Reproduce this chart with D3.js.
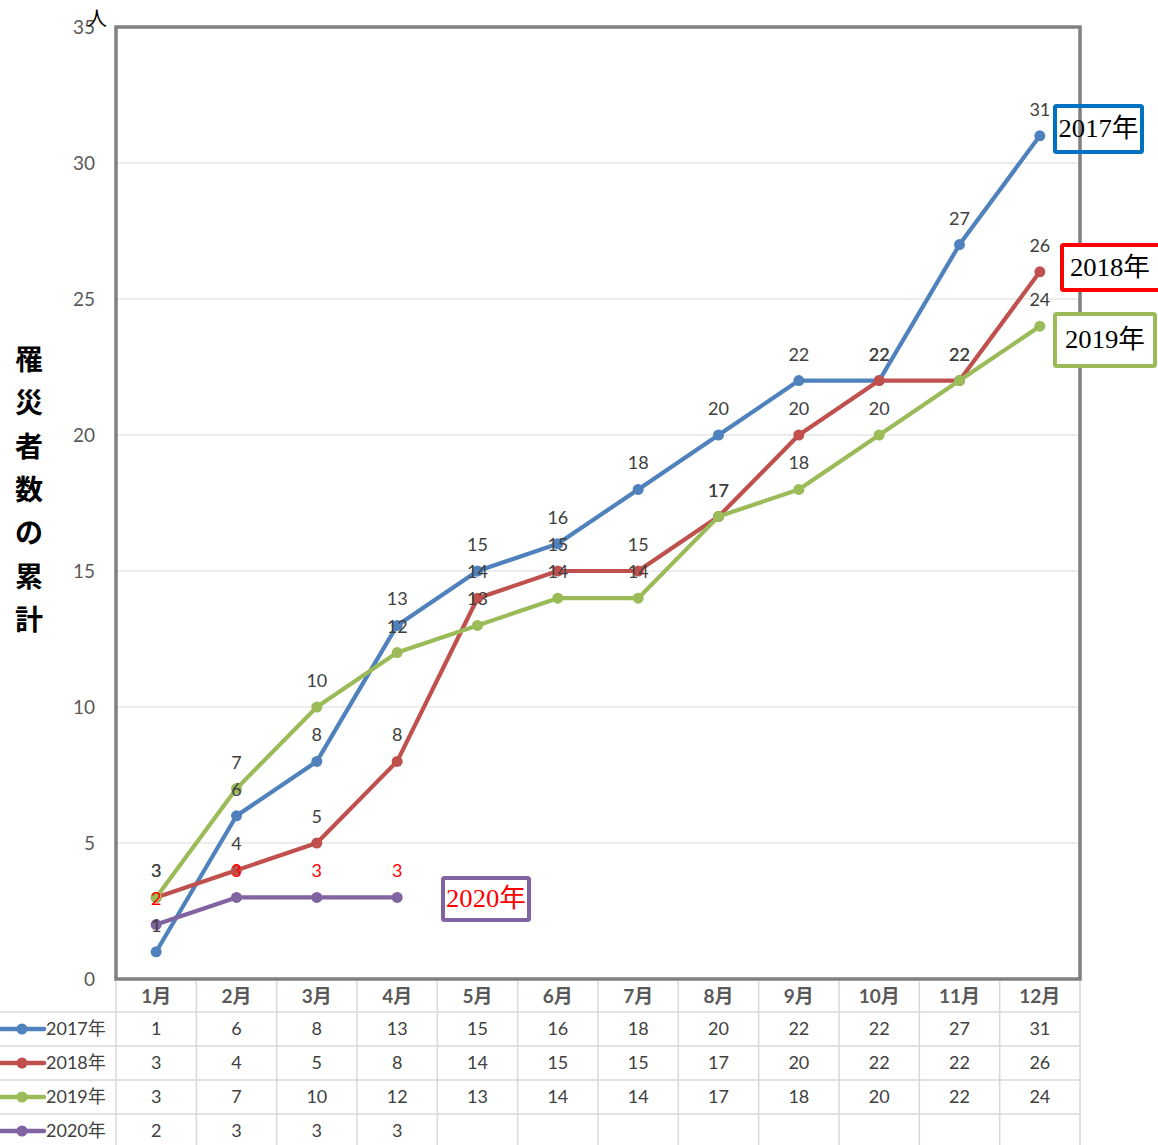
<!DOCTYPE html>
<html><head><meta charset="utf-8">
<script src="https://cdn.jsdelivr.net/npm/d3@7"></script>
<style>
html,body{margin:0;padding:0;background:#fff;}
svg{display:block;font-family:Lato,"Noto Sans CJK JP",sans-serif;}
</style></head>
<body>
<svg id="c" width="1158" height="1145"></svg>
<script>
const months = ["1月","2月","3月","4月","5月","6月","7月","8月","9月","10月","11月","12月"];
const seriesNames = ["2017年","2018年","2019年","2020年"];
const v2017 = [1,6,8,13,15,16,18,20,22,22,27,31];
const v2018 = [3,4,5,8,14,15,15,17,20,22,22,26];
const v2019 = [3,7,10,12,13,14,14,17,18,20,22,24];
const v2020 = [2,3,3,3];
const yTicks = [0,5,10,15,20,25,30,35];
const colors = ["#4F81BD","#C0504D","#9BBB59","#8064A2"];
const yTitle = "罹災者数の累計";
const unitLabel = "人";

const seriesValues = [v2017, v2018, v2019, v2020];
const svg = d3.select("#c");
const L = 116, R = 1080, T = 27, B = 979;

const x = d3.scaleBand().domain(months).range([L, R]).paddingInner(0).paddingOuter(0);
const xc = m => x(m) + x.bandwidth()/2;
const y = d3.scaleLinear().domain([0,35]).range([B, T]);

// gridlines
svg.append("g").selectAll("line").data(yTicks.filter(t=>t>0)).join("line")
  .attr("x1", L).attr("x2", R).attr("y1", d=>y(d)).attr("y2", d=>y(d))
  .attr("stroke", "#d9d9d9").attr("stroke-width", 1.2);

// y axis labels via axis
const yAxis = d3.axisLeft(y).tickValues(yTicks).tickSize(0).tickPadding(21);
const gy = svg.append("g").attr("transform", `translate(${L},0)`).call(yAxis);
gy.select(".domain").remove();
gy.selectAll("text").attr("fill", "#595959").attr("font-size", 19).attr("font-family", "Lato, sans-serif");

// plot border
svg.append("rect").attr("x", L).attr("y", T).attr("width", R-L).attr("height", B-T)
  .attr("fill", "none").attr("stroke", "#808080").attr("stroke-width", 3.5);

// unit label
svg.append("text").attr("x", 97).attr("y", 26).attr("text-anchor","middle")
  .attr("font-size", 20).attr("fill", "#000").attr("font-family","Noto Sans CJK JP").text(unitLabel);

// y title vertical
svg.append("g").selectAll("text").data(Array.from(yTitle)).join("text")
  .attr("x", 29).attr("y", (d,i)=> 360 + i*43.3 + 10)
  .attr("text-anchor","middle").attr("font-size", 28).attr("font-weight","bold")
  .attr("font-family","Noto Sans CJK JP").attr("fill","#000").text(d=>d);

// lines
const line = d3.line().x((d,i)=>xc(months[i])).y(d=>y(d));
seriesValues.forEach((vals, si) => {
  const g = svg.append("g");
  g.append("path").datum(vals).attr("d", line).attr("fill","none")
    .attr("stroke", colors[si]).attr("stroke-width", 4.2).attr("stroke-linejoin","round");
  g.selectAll("circle").data(vals).join("circle")
    .attr("cx", (d,i)=>xc(months[i])).attr("cy", d=>y(d)).attr("r", 5.5).attr("fill", colors[si]);
});

// data labels
seriesValues.forEach((vals, si) => {
  svg.append("g").selectAll("text").data(vals).join("text")
    .attr("x", (d,i)=>xc(months[i])).attr("y", d=>y(d)-20)
    .attr("text-anchor","middle").attr("font-size", 18)
    .attr("fill", si===3 ? "#FF0000" : "#404040").text(d=>d);
});

// legend boxes
const boxes = [
  {name: seriesNames[0], x:1055, y:106, w:87, h:46, stroke:"#0070C0", text:"#000"},
  {name: seriesNames[1], x:1062, y:245, w:100, h:45, stroke:"#FF0000", text:"#000"},
  {name: seriesNames[2], x:1055, y:314, w:100, h:52, stroke:"#9BBB59", text:"#000"},
  {name: seriesNames[3], x:443, y:878, w:86, h:42, stroke:"#8064A2", text:"#FF0000"}
];
boxes.forEach(b => {
  svg.append("rect").attr("x", b.x).attr("y", b.y).attr("width", b.w).attr("height", b.h)
    .attr("fill", b.name==="2017年" ? "none" : "#fff").attr("stroke", b.stroke).attr("stroke-width", 4).attr("rx", 1.5);
  const cx = b.name==="2018年" ? b.x + 48 : b.x + b.w/2;
  svg.append("text").attr("x", cx).attr("y", b.y + b.h/2 + 8)
    .attr("text-anchor","middle").attr("font-size", 26)
    .attr("font-family", "'Liberation Serif','Noto Sans CJK JP',serif")
    .attr("textLength", 80).attr("lengthAdjust","spacingAndGlyphs")
    .attr("fill", b.text).text(b.name);
});

// data table
const rowH = 34;
const headerBottom = 1012;
const rowTops = seriesNames.map((n,i)=> headerBottom + i*rowH);
const tg = svg.append("g");
rowTops.forEach(rt => {
  tg.append("line").attr("x1", 0).attr("x2", R).attr("y1", rt).attr("y2", rt)
    .attr("stroke", "#d9d9d9").attr("stroke-width", 1.5);
});
const vx = months.map(m => x(m)).concat([R]);
tg.selectAll("line.v").data(vx).join("line").attr("class","v")
  .attr("x1", d=>d).attr("x2", d=>d).attr("y1", B+2).attr("y2", 1145)
  .attr("stroke", "#d9d9d9").attr("stroke-width", 1.5);
tg.selectAll("text.h").data(months).join("text").attr("class","h")
  .attr("x", d=>xc(d)).attr("y", 1003).attr("text-anchor","middle")
  .attr("font-size", 19).attr("font-weight","bold").attr("fill","#595959").text(d=>d);
seriesValues.forEach((vals, si) => {
  const cy = rowTops[si] + rowH/2;
  tg.append("line").attr("x1", 1).attr("x2", 44).attr("y1", cy).attr("y2", cy)
    .attr("stroke", colors[si]).attr("stroke-width", 4.5).attr("stroke-linecap","round");
  tg.append("circle").attr("cx", 22).attr("cy", cy).attr("r", 5.5).attr("fill", colors[si]);
  tg.append("text").attr("x", 46).attr("y", cy+6).attr("font-size", 18).attr("fill","#404040")
    .text(seriesNames[si]);
  tg.append("g").selectAll("text").data(vals).join("text")
    .attr("x", (d,i)=>xc(months[i])).attr("y", cy+6).attr("text-anchor","middle")
    .attr("font-size", 18).attr("fill","#404040").text(d=>d);
});
</script>
</body></html>
